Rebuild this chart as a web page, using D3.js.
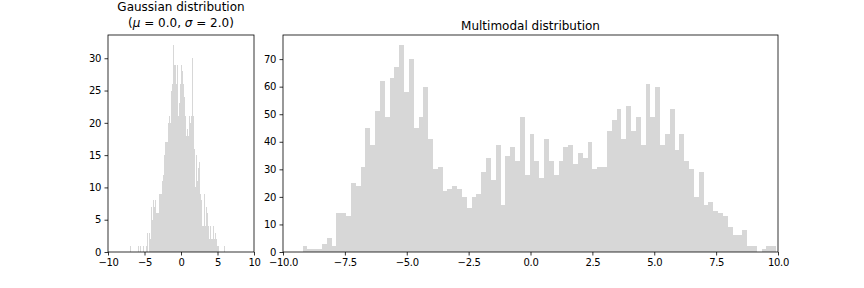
<!DOCTYPE html>
<html>
<head>
<meta charset="utf-8">
<script src="https://cdn.jsdelivr.net/npm/d3@7"></script>
<style>
  html, body { margin: 0; padding: 0; background: #fff; }
  svg { display: block; }
  text { font-family: "DejaVu Sans", sans-serif; fill: #000; }
</style>
</head>
<body>
<svg id="chart" width="864" height="288"></svg>
<script>
// ---------- data ----------
// Gaussian histogram: counts per bin, bins spanning gaussRange
const gaussRange = [-6.99, 6.03];
const gaussCounts = [1,0,0,0,0,0,0,0,1,0,1,0,0,1,0,0,1,3,0,3,2,7,5,8,7,8,6,6,6,9,9,9,11,12,15,17,17,17,20,21,20,25,26,32,29,29,26,29,21,23,26,29,28,26,24,21,18,19,18,21,20,21,30,21,16,10,15,11,13,14,9,8,4,4,9,4,7,6,4,2,4,2,2,4,2,3,2,1,1,0,0,0,0,0,1];
const gaussXTicks = [-10, -5, 0, 5, 10];
const gaussYTicks = [0, 5, 10, 15, 20, 25, 30];
// title pieces: [text, italic?]
const gaussTitle = [
  [["Gaussian distribution", false]],
  [["(", false], ["\u03BC", true], [" = 0.0, ", false], ["\u03C3", true], [" = 2.0)", false]]
];

// Multimodal histogram
const multiRange = [-9.21, 9.92];
const multiCounts = [2,1,1,1,3,5,2,14,14,13,25,24,31,45,39,51,62,49,63,67,75,58,70,45,49,60,41,30,31,
  22,23,24,23,20,16,20,21,29,34,26,39,17,35,38,33,49,28,43,33,27,41,33,28,33,38,39,32,36,34,40,30,31,31,
  44,48,52,41,53,44,49,39,61,49,60,39,43,52,37,43,33,30,20,29,17,18,15,14,13,9,6,6,8,2,2,0,1,2,2];
const multiXTicks = [-10, -7.5, -5, -2.5, 0, 2.5, 5, 7.5, 10];
const multiYTicks = [0, 10, 20, 30, 40, 50, 60, 70];
const multiTitle = [[["Multimodal distribution", false]]];

const xDomain = [-10, 10];
const barColor = "#d7d7d7";

// ---------- drawing ----------
const svg = d3.select("#chart");
const fmtMinus = s => s.replace("-", "\u2212");

function panel(opts) {
  const {left, right, top, bottom, range, counts, xTicks, yTicks, xFmt, title, titleBase, lineH} = opts;
  const x = d3.scaleLinear().domain(xDomain).range([left, right]);
  const yMax = d3.max(counts) * 1.05;
  const y = d3.scaleLinear().domain([0, yMax]).range([bottom, top]);
  const n = counts.length;
  const w = (range[1] - range[0]) / n;
  const edge = i => Math.round(x(range[0] + i * w));
  const g = svg.append("g");
  const clipId = "clip" + left;
  svg.append("clipPath").attr("id", clipId).append("rect")
    .attr("x", left).attr("y", top).attr("width", right - left).attr("height", bottom - top);

  g.append("g").attr("clip-path", `url(#${clipId})`)
    .attr("shape-rendering", "crispEdges")
    .selectAll("rect").data(counts).join("rect")
    .attr("x", (d, i) => edge(i))
    .attr("width", (d, i) => edge(i + 1) - edge(i))
    .attr("y", d => y(d))
    .attr("height", d => y(0) - y(d))
    .attr("fill", barColor);

  const xa = d3.axisBottom(x).tickValues(xTicks).tickSize(3.5).tickSizeOuter(0).tickPadding(3.5)
    .tickFormat(d => fmtMinus(xFmt(d)));
  const ya = d3.axisLeft(y).tickValues(yTicks).tickSize(3.5).tickSizeOuter(0).tickPadding(3.5)
    .tickFormat(d => fmtMinus(String(d)));

  const gx = g.append("g").attr("transform", `translate(0,${bottom})`).call(xa);
  const gy = g.append("g").attr("transform", `translate(${left},0)`).call(ya);
  [gx, gy].forEach(a => {
    a.select(".domain").remove();
    a.selectAll("line").attr("stroke", "#000").attr("stroke-width", 0.8);
    a.selectAll("text").attr("font-size", 10).attr("font-family", "DejaVu Sans")
      .attr("fill", "#000").attr("letter-spacing", "-0.3px");
  });

  g.append("rect").attr("x", left).attr("y", top)
    .attr("width", right - left).attr("height", bottom - top)
    .attr("fill", "none").attr("stroke", "#000").attr("stroke-width", 0.8);

  const cx = (left + right) / 2;
  title.forEach((parts, i) => {
    const t = g.append("text").attr("x", cx)
      .attr("y", titleBase - (title.length - 1 - i) * lineH)
      .attr("text-anchor", "middle").attr("font-size", 12);
    parts.forEach(([s, it]) => {
      t.append("tspan").attr("font-style", it ? "italic" : "normal").text(s);
    });
  });
}

panel({left: 108, right: 254, top: 35, bottom: 252, range: gaussRange, counts: gaussCounts,
  xTicks: gaussXTicks, yTicks: gaussYTicks, xFmt: d3.format("d"), title: gaussTitle,
  titleBase: 27, lineH: 16.5});
panel({left: 283, right: 778, top: 35, bottom: 252, range: multiRange, counts: multiCounts,
  xTicks: multiXTicks, yTicks: multiYTicks, xFmt: d3.format(".1f"), title: multiTitle,
  titleBase: 29.5, lineH: 16.5});
</script>
</body>
</html>
